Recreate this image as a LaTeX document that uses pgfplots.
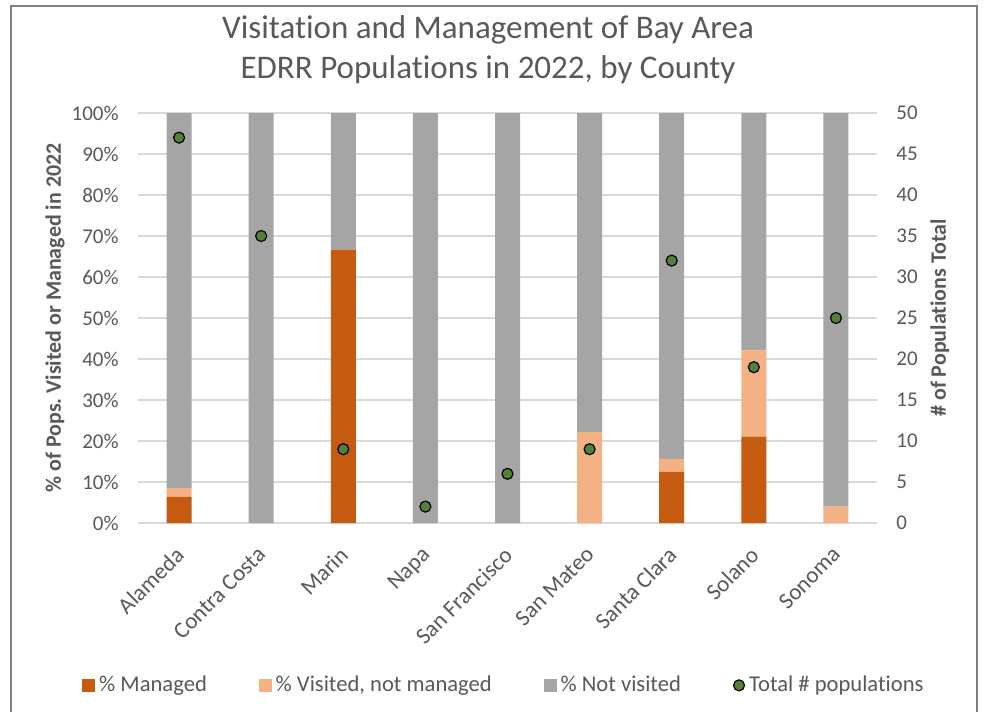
\documentclass[border=0pt]{standalone}
\usepackage{fontspec}
\setmainfont{Carlito}[Ligatures=CommonOff]
\usepackage{pgfplots}
\pgfplotsset{compat=1.18}
\definecolor{managed}{HTML}{C55A11}
\definecolor{visited}{HTML}{F4B183}
\definecolor{notvis}{HTML}{A5A5A5}
\definecolor{dotg}{HTML}{548235}
\definecolor{txt}{HTML}{595959}
\definecolor{gridc}{HTML}{D9D9D9}
\frenchspacing
\begin{document}
\begin{tikzpicture}[x=1pt,y=1pt]
\path (0,0) rectangle (492,355);
\draw[color=black!50, line width=1pt] (5.5,-1) -- (5.5,352) -- (488.5,352) -- (488.5,-1);
\node[text=txt, font=\fontsize{16.5}{20}\selectfont, align=center] at (244,330) {Visitation and Management of Bay Area\\EDRR Populations in 2022, by County};
\begin{axis}[
  at={(69pt,93.5pt)}, anchor=south west,
  scale only axis, width=369.5pt, height=205pt,
  ybar stacked, bar width=12.5pt,
  xmin=-0.5, xmax=8.5, ymin=0, ymax=100,
  xtick={0,...,8},
  xticklabels={Alameda, Contra Costa, Marin, Napa, San Francisco, San Mateo, Santa Clara, Solano, Sonoma},
  xticklabel style={xshift=-2.5pt, yshift=-11pt, rotate=45, anchor=north east, inner sep=0pt, font=\fontsize{11.5}{13}\selectfont, text=txt},
  ytick={0,10,...,100},
  yticklabel={\pgfmathprintnumber{\tick}\%},
  yticklabel style={anchor=east, inner sep=0pt, xshift=-9.5pt, font=\fontsize{10.5}{12}\selectfont, text=txt},
  /pgf/number format/assume math mode=true,
  ymajorgrids, grid style={gridc, line width=0.8pt},
  axis line style={draw=none},
  major tick length=0pt,
  ylabel={\% of Pops. Visited or Managed in 2022},
  ylabel style={at={(axis description cs:-0.1123,0.5)}, anchor=center, font=\bfseries\fontsize{11}{13}\selectfont, text=txt},
]
\addplot[fill=managed, draw=none] coordinates {(0,6.38) (1,0) (2,66.67) (3,0) (4,0) (5,0) (6,12.5) (7,21.05) (8,0)};
\addplot[fill=visited, draw=none] coordinates {(0,2.13) (1,0) (2,0) (3,0) (4,0) (5,22.22) (6,3.13) (7,21.05) (8,4)};
\addplot[fill=notvis, draw=none] coordinates {(0,91.49) (1,100) (2,33.33) (3,100) (4,100) (5,77.78) (6,84.37) (7,57.90) (8,96)};
\end{axis}
\begin{axis}[
  at={(69pt,93.5pt)}, anchor=south west,
  scale only axis, width=369.5pt, height=205pt,
  xmin=-0.5, xmax=8.5, ymin=0, ymax=50,
  axis y line*=right, axis x line=none,
  ytick={0,5,...,50},
  yticklabel style={anchor=west, inner sep=0pt, xshift=9.5pt, font=\fontsize{10.5}{12}\selectfont, text=txt},
  /pgf/number format/assume math mode=true,
  axis line style={draw=none},
  major tick length=0pt,
  ylabel={\# of Populations Total},
  ylabel style={at={(axis description cs:1.0852,0.5)}, anchor=center, rotate=0, font=\bfseries\fontsize{11}{13}\selectfont, text=txt},
  legend columns=4,
  legend style={at={(axis description cs:0.4966,-0.396)}, anchor=center, draw=none, fill=none, font=\fontsize{11.3}{13}\selectfont, text=txt, /tikz/every even column/.append style={column sep=24pt}},
  legend cell align=left,
]
\addlegendimage{legend image code/.code={\fill[managed] (0pt,-3pt) rectangle (6pt,3pt);}}
\addlegendentry{\% Managed}
\addlegendimage{legend image code/.code={\fill[visited] (0pt,-3pt) rectangle (6pt,3pt);}}
\addlegendentry{\% Visited, not managed}
\addlegendimage{legend image code/.code={\fill[notvis] (0pt,-3pt) rectangle (6pt,3pt);}}
\addlegendentry{\% Not visited}
\addplot[only marks, mark=*, mark size=2.75pt, mark options={fill=dotg, draw=black, line width=0.6pt},
  legend image code/.code={\draw[fill=dotg, draw=black, line width=0.6pt] (3pt,0pt) circle (2.75pt);}]
  coordinates {(0,47) (1,35) (2,9) (3,2) (4,6) (5,9) (6,32) (7,19) (8,25)};
\addlegendentry{Total \# populations}
\end{axis}
\end{tikzpicture}
\end{document}
